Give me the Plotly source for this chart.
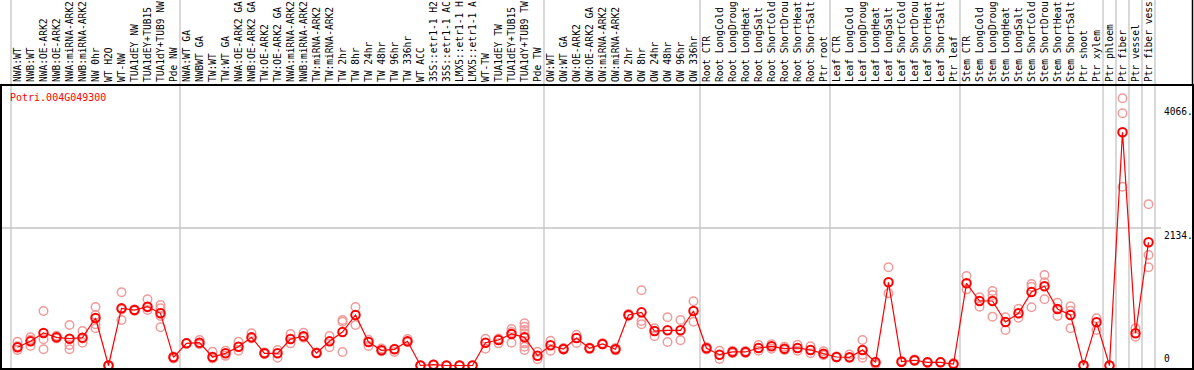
import plotly.graph_objects as go

gene_id = "Potri.004G049300"

categories = [
    "NWA:WT", "NWB:WT", "NWA:OE-ARK2", "NWB:OE-ARK2", "NWA:miRNA-ARK2", "NWB:miRNA-ARK2",
    "NW 0hr", "WT H2O", "WT-NW", "TUA1dEY NW", "TUA1dEY+TUB15", "TUA1dY+TUB9 NW", "Pde NW",
    "NWA:WT GA", "NWBWT GA", "TW:WT", "TW:WT GA", "NWA:OE-ARK2 GA", "NWB:OE-ARK2 GA",
    "TW:OE-ARK2", "TW:OE-ARK2 GA", "NWA:miRNA-ARK2", "NWB:miRNA-ARK2", "TW:miRNA-ARK2",
    "TW:miRNA-ARK2", "TW 2hr", "TW 8hr", "TW 24hr", "TW 48hr", "TW 96hr", "TW 336hr",
    "WT ACC", "35S::etr1-1 H2", "35S::etr1-1 AC", "LMX5::etr1-1 H", "LMX5::etr1-1 A",
    "WT-TW", "TUA1dEY TW", "TUA1dEY+TUB15", "TUA1dY+TUB9 TW", "Pde TW",
    "OW:WT", "OW:WT GA", "OW:OE-ARK2", "OW:OE-ARK2 GA", "OW:miRNA-ARK2", "OW:miRNA-ARK2",
    "OW 2hr", "OW 8hr", "OW 24hr", "OW 48hr", "OW 96hr", "OW 336hr",
    "Root CTR", "Root LongCold", "Root LongDroug", "Root LongHeat", "Root LongSalt",
    "Root ShortCold", "Root ShortDrou", "Root ShortHeat", "Root ShortSalt", "Ptr root",
    "Leaf CTR", "Leaf LongCold", "Leaf LongDroug", "Leaf LongHeat", "Leaf LongSalt",
    "Leaf ShortCold", "Leaf ShortDrou", "Leaf ShortHeat", "Leaf ShortSalt", "Ptr leaf",
    "Stem CTR", "Stem LongCold", "Stem LongDroug", "Stem LongHeat", "Stem LongSalt",
    "Stem ShortCold", "Stem ShortDrou", "Stem ShortHeat", "Stem ShortSalt", "Ptr shoot",
    "Ptr xylem",
    "Ptr phloem",
    "Ptr fiber",
    "Ptr vessel",
    "Ptr fiber vess",
]

group_sizes = [13, 28, 12, 10, 10, 11, 1, 1, 1, 1]

mean_values = [
    282, 375, 504, 437, 416, 432, 737, 0, 887, 861, 913, 810, 127,
    344, 354, 132, 189, 292, 437, 189, 189, 411, 453, 194, 375, 520, 784, 365, 236, 251, 375,
    0, 13, 0, 0, 0, 354, 396, 489, 437, 152,
    313, 256, 427, 267, 334, 251, 784, 825, 535, 546, 546, 846,
    267, 168, 210, 210, 272, 298, 261, 272, 241, 184,
    132, 127, 241, 49, 1291, 59, 81, 49, 49, 23,
    1276, 1001, 1001, 675, 810, 1141, 1229, 877, 784, 3, 670,
    0, 3619, 500, 1912,
]

replicate_values = [
    [369, 240, 300], [437, 302, 400], [846, 407, 251], [460, 420, 437], [629, 318, 251],
    [535, 354, 420], [908, 784, 577, 640], [0, 0, 0], [1136, 706, 870], [870, 850, 865],
    [1027, 861, 900], [939, 887, 768, 593], [140, 110, 130],
    [350, 340], [396, 330], [214, 110], [230, 150], [369, 230], [500, 420], [200, 180],
    [121, 240], [489, 344], [509, 430], [200, 185], [458, 282], [706, 680, 210], [908, 629],
    [303, 400], [264, 220], [210, 260], [410, 360], [0, 0], [15, 10], [0, 0], [0, 0], [0, 0],
    [416, 261], [420, 344], [566, 520, 354], [655, 602, 551, 499, 344, 292, 240], [214, 96],
    [385, 230], [270, 245], [478, 349], [280, 255], [345, 325], [270, 235], [800, 770],
    [1167, 691, 639], [577, 453], [748, 365], [706, 391], [996, 680],
    [250, 285], [230, 101], [230, 190], [225, 195], [318, 230], [330, 260], [290, 240],
    [323, 230], [300, 190], [220, 160],
    [140, 125], [170, 120], [396, 168, 120], [20, 60], [1524, 1120], [70, 50], [95, 70],
    [55, 40], [55, 45], [40, 15],
    [1389, 1182], [1058, 913], [1156, 1094, 758], [748, 551], [882, 742], [1265, 1223, 903],
    [1405, 1291, 1027], [975, 768], [919, 850, 577], [0, 5], [732, 551],
    [0], [4147, 3914, 2775], [577, 447], [2502, 1715, 1524],
]

y_tick_values = [4066, 2134, 0]
y_tick_text = ["4066.", "2134.", "0"]
grid_values = [2134]

# ---------------- figure geometry ----------------
W, H = 1194, 370
ML, MR, MT, MB = 2, 2, 86, 2
plot_w = W - ML - MR
plot_h = H - MT - MB
col_px = 13.0
x_min = -(17.5 - ML) / col_px
x_max = x_min + plot_w / col_px
k = 137.5 / 2134.0
y_max = (365.5 - MT) / k
y_min = y_max - plot_h / k

def xpaper(px):
    return (px - ML) / plot_w

def ypaper(py):
    return (H - MB - py) / plot_h

def xdata_to_paper(v):
    return (v - x_min) / (x_max - x_min)

idx = list(range(len(categories)))
font_mono = "DejaVu Sans Mono"
fs = 9.6

fig = go.Figure()

rep_x, rep_y = [], []
for i, reps in enumerate(replicate_values):
    for r in reps:
        rep_x.append(i)
        rep_y.append(r)

fig.add_trace(go.Scatter(
    x=rep_x, y=rep_y, mode="markers",
    marker=dict(symbol="circle-open", size=8.5, color="#f09a9a", line=dict(width=1.5, color="#f09a9a")),
    hoverinfo="skip", showlegend=False,
))
fig.add_trace(go.Scatter(
    x=idx, y=mean_values, mode="lines+markers",
    line=dict(color="#ff0000", width=1.2),
    marker=dict(symbol="circle-open", size=8.5, color="#ff0000", line=dict(width=2, color="#ff0000")),
    showlegend=False,
))

shapes = []
# group separators
b = -0.5
bounds = [b]
for g in group_sizes:
    b += g
    bounds.append(b)
for bx in bounds:
    xp = xdata_to_paper(bx)
    shapes.append(dict(type="line", xref="paper", yref="paper", x0=xp, x1=xp,
                       y0=0, y1=1 + MT / plot_h, line=dict(color="#c4c4c4", width=1.3), layer="below"))
# horizontal grid
for gv in grid_values:
    shapes.append(dict(type="line", xref="paper", yref="y", x0=0, x1=xpaper(1161),
                       y0=gv, y1=gv, line=dict(color="#c4c4c4", width=1.3), layer="below"))
# outer right line through label area
shapes.append(dict(type="line", xref="paper", yref="paper", x0=1 + 0.5 / plot_w, x1=1 + 0.5 / plot_w,
                   y0=1, y1=1 + MT / plot_h, line=dict(color="black", width=1.5)))

annotations = []
for tv, tt in zip(y_tick_values, y_tick_text):
    annotations.append(dict(
        xref="paper", yref="y", x=xpaper(1162), y=tv, text=tt, showarrow=False,
        xanchor="left", yanchor="bottom" if tv == 0 else "top",
        font=dict(family=font_mono, size=fs, color="black"),
    ))
annotations.append(dict(
    xref="paper", yref="paper", x=xpaper(8), y=ypaper(98), text=gene_id, showarrow=False,
    xanchor="left", yanchor="middle", font=dict(family=font_mono, size=10, color="#ff0000"),
))

fig.update_layout(
    width=W, height=H,
    margin=dict(l=ML, r=MR, t=MT, b=MB, pad=0, autoexpand=False),
    paper_bgcolor="white", plot_bgcolor="white",
    shapes=shapes, annotations=annotations,
    xaxis=dict(
        range=[x_min, x_max], side="top", tickmode="array", tickvals=idx, ticktext=categories,
        tickangle=-90, tickfont=dict(family=font_mono, size=fs, color="black"),
        showgrid=False, zeroline=False, showline=True, linecolor="black", linewidth=2, mirror=True,
        ticks="", fixedrange=True, automargin=False,
    ),
    yaxis=dict(
        range=[y_min, y_max], showticklabels=False, showgrid=False, zeroline=False,
        showline=True, linecolor="black", linewidth=2, mirror=True, ticks="", automargin=False,
    ),
)

fig.write_html(
    "out.html",
    config={"displayModeBar": False},
    post_script="document.body.style.margin='0';document.body.style.padding='0';",
)
